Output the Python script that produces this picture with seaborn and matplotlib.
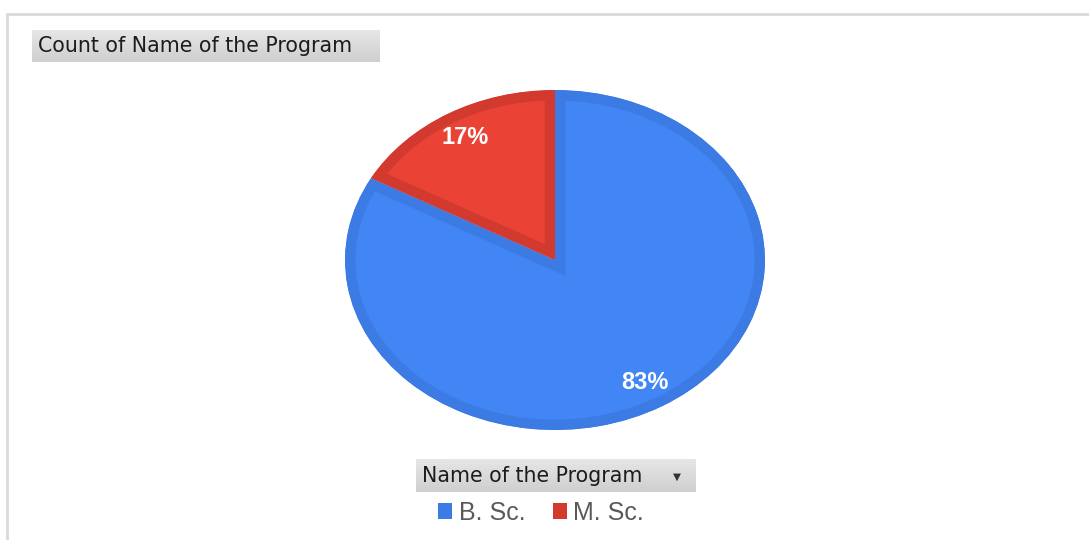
import matplotlib
matplotlib.use("Agg")
import numpy as np
import matplotlib.pyplot as plt
import seaborn as sns
from matplotlib.colors import LinearSegmentedColormap
from matplotlib.patches import Patch
from matplotlib.lines import Line2D

# data
programs = ["B. Sc.", "M. Sc."]
shares = [83, 17]
title = "Count of Name of the Program"
legend_title = "Name of the Program"

sns.set_theme(style="white")
plt.rcParams["font.family"] = ["DejaVu Sans"]

fills = ["#4285f4", "#ea4335"]
edges = ["#3b7be3", "#d33a2f"]

W, H = 1089, 540
fig = plt.figure(figsize=(W / 100, H / 100), dpi=100)
fig.patch.set_facecolor("white")

# pie area (stretched horizontally like the screenshot)
ax = fig.add_axes([345 / W, (H - 430) / H, 420 / W, 340 / H])
wedges, texts, autotexts = ax.pie(
    shares, colors=fills, startangle=90, counterclock=False,
    autopct="%1.0f%%", pctdistance=0.84,
    wedgeprops=dict(linewidth=15),
    textprops=dict(color="white", fontsize=17, fontweight="bold",
                   family="Liberation Sans"))
for w, ec in zip(wedges, edges):
    w.set_edgecolor(ec)
    w.set_clip_on(True)
    w.set_clip_path(w)  # inner stroke only
ax.set_aspect("auto")
ax.set_xlim(-1, 1)
ax.set_ylim(-1, 1)
ax.axis("off")

# outer frame lines
fig.add_artist(Line2D([7 / W, 1], [1 - 14 / H, 1 - 14 / H], transform=fig.transFigure,
                      color="#d9d9d9", lw=2))
fig.add_artist(Line2D([7 / W, 7 / W], [0, 1 - 14 / H], transform=fig.transFigure,
                      color="#d9d9d9", lw=2))

grey = LinearSegmentedColormap.from_list("grey", ["#e6e6e6", "#cfcfcf"])
grad = np.linspace(0, 1, 32).reshape(-1, 1)


def header_box(x0, y0, x1, y1):
    bx = fig.add_axes([x0 / W, (H - y1) / H, (x1 - x0) / W, (y1 - y0) / H])
    bx.imshow(grad, cmap=grey, aspect="auto")
    bx.axis("off")


# title box
header_box(32, 30, 380, 62)
fig.text(38 / W, 1 - 46 / H, title, fontsize=14.8, color="#1c1c1c", va="center", ha="left")

# legend header box
header_box(416, 459, 696, 492)
fig.text(422 / W, 1 - 476 / H, legend_title, fontsize=14.8, color="#1c1c1c", va="center", ha="left")
fig.text(677 / W, 1 - 477 / H, "\u25bc", fontsize=7.5, color="#333333", va="center", ha="center")

# legend
handles = [Patch(facecolor=c, edgecolor="none") for c in edges]
leg = fig.legend(handles, programs, loc="center", bbox_to_anchor=(541 / W, 1 - 513 / H),
                 ncol=2, frameon=False, handlelength=0.58, handleheight=0.58,
                 handletextpad=0.25, columnspacing=1.1,
                 prop=dict(family="Liberation Sans", size=18))
for t in leg.get_texts():
    t.set_color("#5a5a5a")

fig.savefig("out.png", dpi=100)
